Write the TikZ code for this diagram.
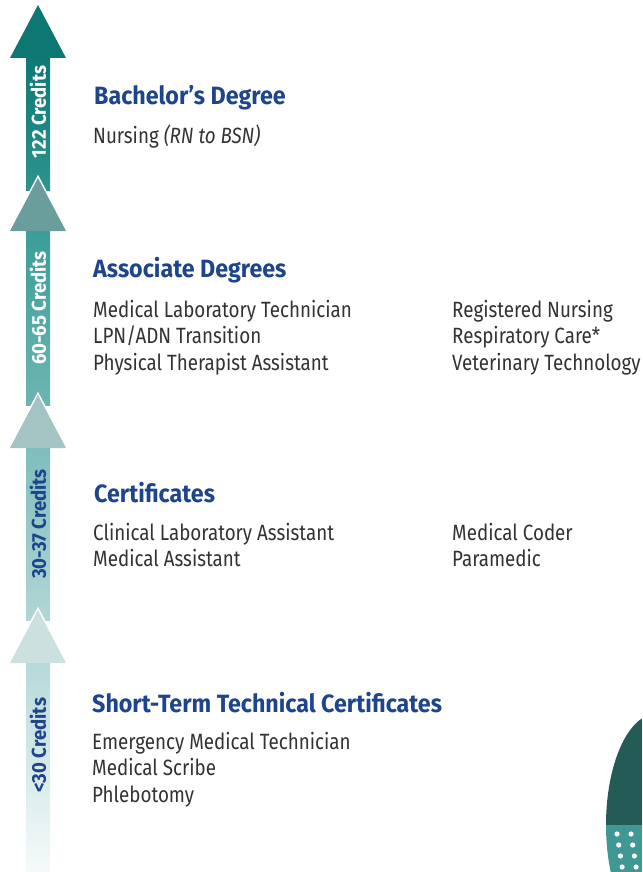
\documentclass[tikz,border=0pt]{standalone}
\usepackage{fontspec}
\usepackage{tikz}
\newfontfamily\bodyfont[FakeStretch=0.85]{Fira Sans}
\newfontfamily\headfont[FakeStretch=0.93]{Fira Sans Bold}

\definecolor{headblue}{RGB}{30,68,140}
\definecolor{bodygray}{RGB}{50,50,50}
\definecolor{headA}{RGB}{12,119,115}
\definecolor{headB}{RGB}{106,158,156}
\definecolor{headC}{RGB}{163,196,195}
\definecolor{headD}{RGB}{205,224,224}
\definecolor{leafdark}{RGB}{37,91,87}
\definecolor{leaflight}{RGB}{63,152,147}

\tikzset{
  heading/.style={anchor=base west, inner sep=0pt, text=headblue,
    font=\headfont\fontsize{25}{27}\selectfont},
  entry/.style={anchor=base west, inner sep=0pt, text=bodygray,
    font=\bodyfont\fontsize{22.1}{26.5}\selectfont},
  credits/.style={rotate=90, inner sep=0pt,
    font=\headfont\fontsize{20}{22}\selectfont},
}

% arrow head of one credit step: apex y, colour
\newcommand\stephead[2]{%
  \draw[white, line width=3pt] (10,#1+53) -- (38,#1) -- (66,#1+53);
  \fill[#2] (10,#1+53) -- (38,#1) -- (66,#1+53) -- cycle;
}

\begin{document}
\begin{tikzpicture}[x=1pt, y=-1pt]
    \useasboundingbox (0,0) rectangle (642,872);

    % shafts
    \shade[top color=headA, bottom color={rgb,255:red,46;green,147;blue,143}] (26,50) rectangle (50,190);
    \shade[top color={rgb,255:red,58;green,156;blue,152}, bottom color={rgb,255:red,110;green,181;blue,178}] (26,225) rectangle (50,405);
    \shade[top color={rgb,255:red,122;green,189;blue,187}, bottom color={rgb,255:red,178;green,214;blue,213}] (26,440) rectangle (50,620);
    \shade[top color={rgb,255:red,180;green,216;blue,216}, bottom color={rgb,255:red,246;green,250;blue,250}] (26,655) rectangle (50,872);

    % heads
    \stephead{5}{headA}
    \stephead{178}{headB}
    \stephead{395}{headC}
    \stephead{610}{headD}

    % credit labels
    \node[credits, text=white] (cr122) at (38,112) {122 Credits};
    \node[credits, text=white] (cr60) at (38,308) {60-65 Credits};
    \node[credits, text=headblue] (cr30) at (38,524) {30-37 Credits};
    \node[credits, text=headblue] (crlt) at (38,745) {<30 Credits};

    % bachelor
    \node[heading] (bach) at (94,105) {Bachelor’s Degree};
    \node[entry] (bsn) at (93,143) {Nursing \textit{(RN to BSN)}};

    % associate
    \node[heading] (assoc) at (93,277) {Associate Degrees};
    \node[entry] (mlt) at (93,317) {Medical Laboratory Technician};
    \node[entry] (lpn) at (93,343.5) {LPN/ADN Transition};
    \node[entry] (pta) at (93,370) {Physical Therapist Assistant};
    \node[entry] (rn) at (452,317) {Registered Nursing};
    \node[entry] (resp) at (452,343.5) {Respiratory Care*};
    \node[entry] (vet) at (452,370) {Veterinary Technology};

    % certificates
    \node[heading] (cert) at (94,502) {Certificates};
    \node[entry] (cla) at (93,540) {Clinical Laboratory Assistant};
    \node[entry] (ma) at (93,566.5) {Medical Assistant};
    \node[entry] (coder) at (452,540) {Medical Coder};
    \node[entry] (para) at (452,566.5) {Paramedic};

    % short-term
    \node[heading] (stc) at (92,712) {Short-Term Technical Certificates};
    \node[entry] (emt) at (92,749) {Emergency Medical Technician};
    \node[entry] (scribe) at (92,775.5) {Medical Scribe};
    \node[entry] (phleb) at (92,802) {Phlebotomy};

    % leaf in the corner
    \begin{scope}
        \clip (0,0) rectangle (642,872);
        \clip (656,825) ellipse (50 and 111);
        \fill[leafdark] (600,700) rectangle (642,825);
        \fill[leaflight] (600,825) rectangle (642,872);
        \foreach \r in {0,1,2,3}
            \foreach \c in {0,1,2}
                \fill[white] (617+1.7*\r+14*\c, 834+11*\r) circle (2.6);
    \end{scope}
\end{tikzpicture}
\end{document}
